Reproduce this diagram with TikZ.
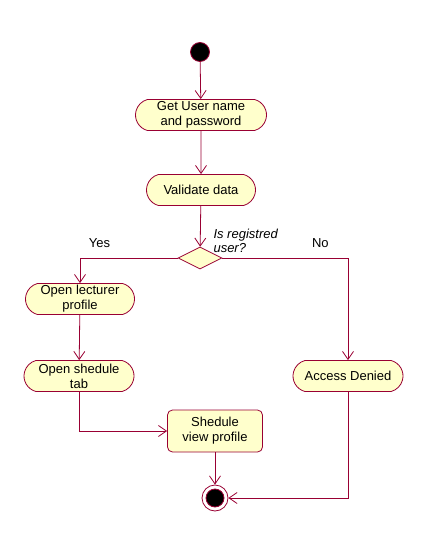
\documentclass[tikz,border=0pt]{standalone}
\usepackage{fontspec}
\setmainfont{Liberation Sans}
\usetikzlibrary{shapes.misc,shapes.geometric,arrows.meta}
\definecolor{crim}{RGB}{153,0,51}
\definecolor{pale}{RGB}{255,255,204}
\begin{document}
\begin{tikzpicture}[x=1bp,y=-1bp,
    every node/.style={font=\fontsize{13bp}{15bp}\selectfont},
    act/.style={draw=crim,fill=pale,line width=0.8bp,rounded rectangle,rounded rectangle arc length=150,
      minimum height=31bp,inner sep=1bp,align=center},
    flow/.style={draw=crim,line width=0.8bp,-{Straight Barb[length=8bp,width=11bp]}}]
      \useasboundingbox (0,0) rectangle (427,536);
      \node (St) [circle,fill=black,draw=crim,line width=0.8bp,minimum size=19bp,inner sep=0] at (200,52) {};
      \node (Get) [act,minimum width=133bp] at (201,115) {Get User name\\and password};
      \node (Val) [act,minimum width=111bp] at (201,190) {Validate data};
      \node (Dec) [diamond,draw=crim,fill=pale,line width=0.8bp,minimum width=44bp,minimum height=22bp,inner sep=0] at (200,258) {};
      \node (Q) [anchor=west,align=left,font=\itshape\fontsize{13bp}{14bp}\selectfont] at (210,241) {Is registred\\user?};
      \node (Lec) [act,minimum width=111bp] at (80,299) {Open lecturer\\profile};
      \node (Tab) [act,minimum width=112bp] at (79,376) {Open shedule\\tab};
      \node (Acc) [act,minimum width=112bp] at (348,376) {Access Denied};
      \node (View) [draw=crim,fill=pale,line width=0.8bp,rounded corners=5bp,minimum width=95bp,minimum height=42bp,align=center,inner sep=1bp] at (215,431) {Shedule\\view profile};
      \node (End) [circle,draw=crim,fill=white,line width=0.8bp,minimum size=26bp,inner sep=0] at (215,498) {};
      \fill[black,draw=crim,line width=0.8bp] (End) circle (9bp);
      \draw[flow] (St)--(Get);
      \draw[flow] (Get)--(Val);
      \draw[flow] (Val)--(Dec);
      \draw[flow] (Dec.west)-|(Lec.north) node[pos=0.4,above=7bp] {Yes};
      \draw[flow] (Dec.east)-|(Acc.north) node[pos=0.39,above=7bp] {No};
      \draw[flow] (Lec)--(Tab);
      \draw[flow] (Tab.south)|-(View.west);
      \draw[flow] (View)--(End);
      \draw[flow] (Acc.south)|-(End.east);
    \end{tikzpicture}
\end{document}
